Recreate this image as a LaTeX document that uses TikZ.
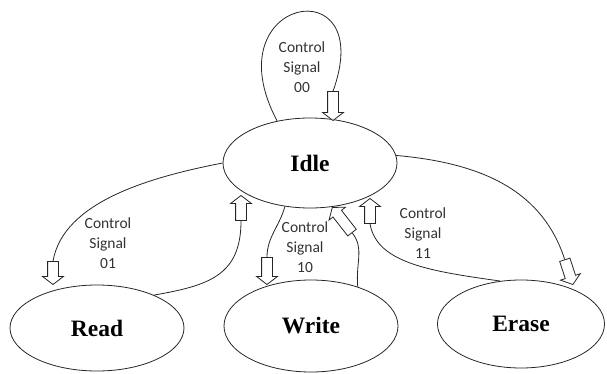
\documentclass[tikz,border=0pt]{standalone}
\usepackage{fontspec}
\setmainfont{Liberation Serif}
\newfontfamily\sigfont{Carlito}
\usetikzlibrary{shapes.geometric, shapes.arrows}

\begin{document}
\begin{tikzpicture}[
    x=1pt, y=1pt,
    state/.style={draw=black!85, ellipse, inner sep=0pt, line width=0.8pt,
                  font=\fontsize{23.5}{28}\selectfont\bfseries},
    blk/.style={single arrow, draw=black!85, fill=white,
                inner xsep=0pt, inner ysep=5pt, line width=0.8pt,
                single arrow head extend=5pt, single arrow tip angle=105,
                anchor=tip},
    sig/.style={align=center, text=black!80,
                font=\fontsize{15.5}{20}\selectfont\sigfont},
    wire/.style={draw=black!85, line width=0.8pt}
  ]
    \useasboundingbox (0,0) rectangle (607,373);

    % states
    \node[state, minimum width=174pt, minimum height=90pt] (idle) at (310,210) {Idle};
    \node[state, minimum width=174pt, minimum height=86pt] (read) at (97,45) {Read};
    \node[state, minimum width=174pt, minimum height=92pt] (write) at (311,47) {Write};
    \node[state, minimum width=167pt, minimum height=88pt] (erase) at (521,49) {Erase};

    % hollow block arrows at the ends of the transitions
    \node[blk, rotate=-90, minimum height=29pt] (a00) at (333,252) {};
    \node[blk, rotate=-90, minimum height=23pt] (a01) at (53,88) {};
    \node[blk, rotate=90, minimum height=25pt] (ard) at (241,178) {};
    \node[blk, rotate=-90, minimum height=27pt] (a10) at (267,88) {};
    \node[blk, rotate=128, minimum height=32pt] (awr) at (332,166) {};
    \node[blk, rotate=-72, minimum height=26pt] (a11) at (573,88) {};
    \node[blk, rotate=90, minimum height=25pt] (aer) at (370,175) {};

    % transitions
    \draw[wire] (idle.128) .. controls +(118:141) and +(70:133) .. (a00.tail);
    \draw[wire] (idle.west) .. controls +(191:75) and +(80:60) .. (a01.tail);
    \draw[wire] (read.30) .. controls +(10:55) and +(-90:55) .. (ard.tail);
    \draw[wire] (idle.-120) .. controls +(-105:20) and +(90:20) .. (a10.tail);
    \draw[wire] (write.40) .. controls +(95:25) and +(-52:20) .. (awr.tail);
    \draw[wire] (idle.5) .. controls +(-5:90) and +(108:70) .. (a11.tail);
    \draw[wire] (erase.116) .. controls +(172:70) and +(-80:40) .. (aer.tail);

    % control signal labels
    \node[sig] (s00) at (302,306) {Control\\Signal\\00};
    \node[sig] (s01) at (108,130) {Control\\Signal\\01};
    \node[sig] (s10) at (305,126) {Control\\Signal\\10};
    \node[sig] (s11) at (423,140) {Control\\Signal\\11};
\end{tikzpicture}
\end{document}
